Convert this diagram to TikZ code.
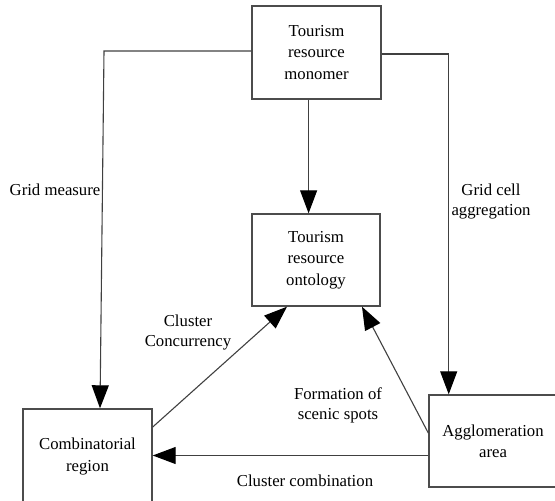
\documentclass[tikz,border=0pt]{standalone}
\usepackage{fontspec}
\setmainfont{Liberation Serif}
\usetikzlibrary{arrows.meta}
\begin{document}
\begin{tikzpicture}[x=1bp,y=-1bp,
  box/.style={draw=black!70, line width=1.4bp, align=center, inner sep=0pt,
    font=\fontsize{16.8}{21.5}\selectfont},
  lbl/.style={align=center, inner sep=0pt, font=\fontsize{16.8}{20}\selectfont},
  conn/.style={draw=black!75, line width=1.1bp},
  arr/.style={conn, -{Triangle[length=23bp,width=17bp,color=black]}}]
\useasboundingbox (0,0) rectangle (555,501);
% boxes
\node[box, minimum width=129bp, minimum height=93bp] (mono) at (316.5,52.5) {Tourism\\resource\\monomer};
\node[box, minimum width=128bp, minimum height=92bp] (onto) at (316,260) {Tourism\\resource\\ontology};
\node[box, minimum width=129bp, minimum height=95bp] (comb) at (87.5,456.5) {Combinatorial\\region};
\node[box, minimum width=128bp, minimum height=92bp] (aggl) at (493,441) {Agglomeration\\area};
% helper coordinates
\coordinate (gl) at (104,51);
\coordinate (gr) at (448.7,54);
\coordinate (cx) at (308.6,0);
\coordinate (ccy) at (0,427);
\coordinate (ccx) at (287,0);
\coordinate (fy) at (0,433);
\coordinate (fx) at (362,0);
\coordinate (cby) at (0,455.5);
% connectors
\draw[arr] (mono.west |- gl) -- (gl) -- ([xshift=12.5bp]comb.north);
\draw[arr] (mono.east |- gr) -- (gr) -- (gr |- aggl.north);
\draw[arr] (mono.south -| cx) -- (onto.north -| cx);
\draw[arr] (comb.east |- ccy) -- (onto.south -| ccx);
\draw[arr] (aggl.west |- fy) -- (onto.south -| fx);
\draw[arr] (aggl.west |- cby) -- (comb.east |- cby);
% labels
\node[lbl] (gm) at (55,190) {Grid measure};
\node[lbl] (gca) at (491,201.5) {Grid cell\\aggregation};
\node[lbl] (cc) at (188,332.5) {Cluster\\Concurrency};
\node[lbl] (fos) at (338,405.5) {Formation of\\scenic spots};
\node[lbl] (ccb) at (305,481) {Cluster combination};
\end{tikzpicture}
\end{document}
